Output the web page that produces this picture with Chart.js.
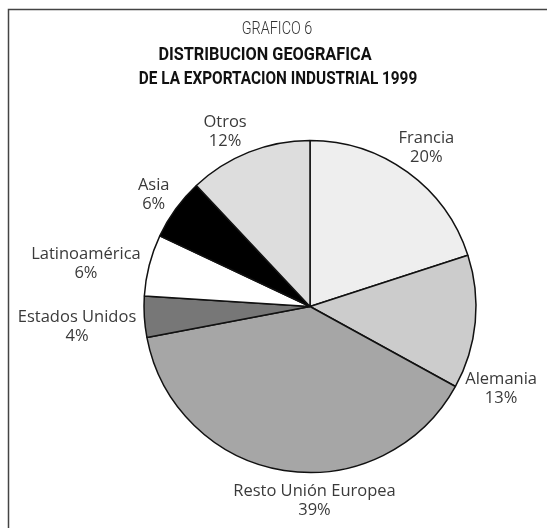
<!DOCTYPE html>
<html>
<head>
<meta charset="utf-8">
<script src="https://cdn.jsdelivr.net/npm/chart.js@4/dist/chart.umd.min.js"></script>
<style>
  html, body { margin: 0; padding: 0; background: #fff; }
  #wrap { position: relative; width: 547px; height: 528px; }
</style>
</head>
<body>
<div id="wrap"><canvas id="chart"></canvas></div>
<script>
// data
const regions = ['Francia', 'Alemania', 'Resto Unión Europea', 'Estados Unidos', 'Latinoamérica', 'Asia', 'Otros'];
const shares = [20, 13, 39, 4, 6, 6, 12];
const titleLines = ['GRAFICO 6', 'DISTRIBUCION GEOGRAFICA', 'DE LA EXPORTACION INDUSTRIAL 1999'];

// styling
const sliceColors = ['#eeeeee', '#cccccc', '#a6a6a6', '#777777', '#ffffff', '#000000', '#dddddd'];
const labelShift = [-1, 19.6, -10, -2.3, -1.6, -1, -4]; // degrees, hand nudges like the original
const LINE_H = 19;
const LABEL_GAP = 9;

const frame = {
    id: 'frame',
    beforeDraw(chart) {
        const ctx = chart.ctx;
        ctx.save();
        ctx.strokeStyle = '#444';
        ctx.lineWidth = 1.5;
        ctx.strokeRect(8.5, 9.5, 600, 600);
        ctx.restore();
    },
    afterDraw(chart) {
        // condensed look: Roboto squeezed horizontally
        const ctx = chart.ctx;
        const fonts = ['300 18px Roboto', 'bold 18.5px Roboto', 'bold 18.5px Roboto'];
        const xs = [277, 265, 278];
        const ys = [29, 55, 79];
        const colors = ['#333', '#111', '#111'];
        const squeeze = [0.8, 0.88, 0.83];
        ctx.save();
        ctx.textAlign = 'center';
        ctx.textBaseline = 'middle';
        titleLines.forEach((t, i) => {
            ctx.save();
            ctx.translate(xs[i], ys[i]);
            ctx.scale(squeeze[i], 1);
            ctx.font = fonts[i];
            ctx.fillStyle = colors[i];
            ctx.fillText(t, 0, 0);
            ctx.restore();
        });
        ctx.restore();
    }
};

const sliceLabels = {
    id: 'sliceLabels',
    afterDatasetsDraw(chart) {
        const ctx = chart.ctx;
        const meta = chart.getDatasetMeta(0);
        ctx.save();
        ctx.font = '16.5px "Open Sans"';
        ctx.fillStyle = '#3a3a3a';
        ctx.textAlign = 'center';
        ctx.textBaseline = 'middle';
        meta.data.forEach((arc, i) => {
            const p = arc.getProps(['x', 'y', 'startAngle', 'endAngle', 'outerRadius'], true);
            const a = (p.startAngle + p.endAngle) / 2 + labelShift[i] * Math.PI / 180;
            const lines = [regions[i], shares[i] + '%'];
            const w = Math.max(...lines.map(t => ctx.measureText(t).width));
            const h = lines.length * LINE_H;
            const r = p.outerRadius + LABEL_GAP;
            const cx = p.x + Math.cos(a) * (r + w / 2);
            const cy = p.y + Math.sin(a) * (r + h / 2);
            lines.forEach((t, j) => {
                ctx.fillText(t, cx, cy + (j - (lines.length - 1) / 2) * LINE_H);
            });
        });
        ctx.restore();
    }
};

new Chart(document.getElementById('chart'), {
    type: 'pie',
    data: {
        labels: regions,
        datasets: [{
            data: shares,
            backgroundColor: sliceColors,
            borderColor: '#111',
            borderWidth: 1.5,
            radius: 166
        }]
    },
    options: {
        responsive: true,
        maintainAspectRatio: false,
        animation: false,
        layout: {
            padding: { left: 90, right: 17, top: 100, bottom: 15 }
        },
        plugins: {
            legend: { display: false },
            tooltip: { enabled: false }
        }
    },
    plugins: [frame, sliceLabels]
});
</script>
</body>
</html>
